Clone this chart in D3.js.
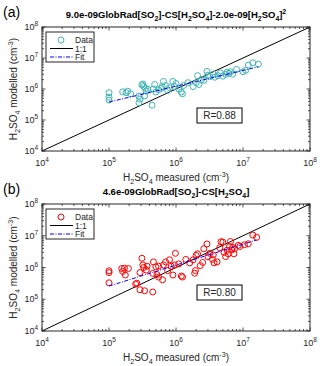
<!DOCTYPE html>
<html>
<head>
<meta charset="utf-8">
<script src="https://cdn.jsdelivr.net/npm/d3@7"></script>
<style>
  body { margin: 0; background: #fff; }
  svg { display: block; font-family: "Liberation Sans", Arial, sans-serif; }
</style>
</head>
<body>
<svg id="chart" width="320" height="366"></svg>
<script>
// Panel (a) – cyan scatter
const measuredA = [1.0e5, 1.0e5, 1.0e5, 1.6e5, 1.8e5, 1.9e5, 2.1e5, 2.8e5, 2.9e5, 2.8e5,
  3.1e5, 3.2e5, 3.3e5, 3.5e5, 3.6e5, 3.4e5, 3.8e5, 4.4e5, 4.8e5, 4.6e5,
  5.0e5, 5.5e5, 6.0e5, 6.5e5, 6.2e5, 7.0e5, 7.5e5, 8.0e5, 9.0e5, 9.5e5,
  1.0e6, 1.1e6, 1.2e6, 1.25e6, 1.3e6, 1.5e6, 1.8e6, 2.0e6, 2.1e6, 2.2e6,
  2.4e6, 2.6e6, 2.9e6, 3.0e6, 3.2e6, 3.6e6, 3.8e6, 4.2e6, 4.6e6, 5.0e6,
  5.5e6, 5.8e6, 6.2e6, 6.5e6, 7.0e6, 8.0e6, 1.0e7, 1.1e7, 1.2e7, 1.4e7, 1.7e7];
const modelledA = [7.6e5, 5.4e5, 4.4e5, 8.1e5, 7.6e5, 8.5e5, 7.0e5, 5.9e5, 4.7e5, 3.6e5,
  1.35e6, 1.45e6, 1.2e6, 1.05e6, 8.5e5, 6.0e5, 9.8e5, 3.0e5, 1.4e6, 1.0e6,
  8.0e5, 9.5e5, 1.05e6, 1.75e6, 1.2e6, 1.3e6, 9.0e5, 1.1e6, 1.75e6, 1.2e6,
  1.5e6, 1.0e6, 8.0e5, 7.0e5, 1.3e6, 1.6e6, 1.2e6, 1.6e6, 2.7e6, 1.4e6,
  2.0e6, 1.9e6, 3.7e6, 2.8e6, 2.5e6, 3.0e6, 2.4e6, 2.7e6, 3.3e6, 2.6e6,
  3.0e6, 3.5e6, 3.2e6, 3.6e6, 3.0e6, 4.3e6, 3.6e6, 4.0e6, 5.9e6, 7.0e6, 6.3e6];
const fitAx = [1.0e5, 1.7e7];
const fitAy = [3.8e5, 5.2e6];

// Panel (b) – red scatter
const measuredB = [1.0e5, 1.0e5, 1.0e5, 1.55e5, 1.6e5, 1.7e5, 1.75e5, 1.95e5, 2.6e5, 2.9e5,
  2.5e5, 2.9e5, 3.1e5, 3.2e5, 3.3e5, 3.4e5, 3.6e5, 3.7e5, 4.5e5, 4.6e5,
  4.5e5, 5.0e5, 5.2e5, 5.5e5, 5.5e5, 6.5e5, 6.3e5, 7.0e5, 7.5e5, 8.0e5,
  8.5e5, 9.0e5, 9.8e5, 9.5e5, 1.1e6, 1.2e6, 1.25e6, 1.4e6, 1.6e6, 1.8e6,
  1.9e6, 1.95e6, 2.0e6, 2.1e6, 2.3e6, 2.5e6, 2.6e6, 2.9e6, 3.0e6, 3.2e6,
  3.5e6, 3.6e6, 3.7e6, 4.1e6, 4.5e6, 4.7e6, 5.0e6, 5.2e6, 5.5e6, 5.8e6,
  6.0e6, 6.3e6, 6.5e6, 6.8e6, 7.0e6, 7.3e6, 7.5e6, 8.5e6, 9.0e6, 1.05e7,
  1.2e7, 1.4e7, 1.6e7];
const modelledB = [7.9e5, 6.9e5, 3.3e5, 9.3e5, 7.5e5, 9.5e5, 5.8e5, 9.3e5, 3.2e5, 6.9e5,
  3.0e5, 2.0e5, 1.95e6, 1.2e6, 1.0e6, 1.85e5, 8.3e5, 1.1e6, 1.7e5, 1.5e6,
  6.5e5, 1.05e6, 6.0e5, 5.0e5, 1.1e6, 1.2e6, 4.1e5, 1.5e6, 8.0e5, 1.75e6,
  1.1e6, 5.8e5, 2.8e6, 1.2e6, 1.3e6, 5.4e5, 5.0e5, 1.8e6, 1.4e6, 1.75e6,
  6.6e5, 8.0e5, 2.4e6, 2.7e6, 1.15e6, 1.45e6, 3.9e6, 5.5e6, 2.2e6, 2.8e6,
  1.8e6, 2.5e6, 1.4e6, 1.5e6, 4.2e6, 6.5e6, 6.3e6, 3.0e6, 2.2e6, 3.5e6,
  2.7e6, 4.6e6, 6.6e6, 3.6e6, 4.3e6, 2.7e6, 3.9e6, 5.0e6, 4.6e6, 5.2e6,
  5.6e6, 1.05e7, 8.9e6];
const fitBx = [1.0e5, 1.6e7];
const fitBy = [2.6e5, 7.4e6];

const axisDomain = [1e4, 1e8];
const majorTicks = [1e4, 1e5, 1e6, 1e7, 1e8];
const tickExponents = ["4", "5", "6", "7", "8"];
const legendLabels = ["Data", "1:1", "Fit"];

const svg = d3.select("#chart");
const ink = "#262626";

// Rich text: parts like {t:"2", s:"sub"}
function rich(sel, parts, size) {
  let shift = 0;
  for (const p of parts) {
    const target = p.s === "sub" ? size * 0.3 : p.s === "sup" ? -size * 0.4 : 0;
    sel.append("tspan")
      .attr("dy", target - shift)
      .attr("font-size", p.s ? size * 0.72 : size)
      .text(p.t);
    shift = target;
  }
}

function drawPanel(cfg) {
  const x = d3.scaleLog().domain(axisDomain).range([42, 310]);
  const y = d3.scaleLog().domain(axisDomain).range([cfg.bottom, cfg.top]);
  const g = svg.append("g");

  // minor + major ticks on all four sides, pointing inward
  const allTicks = [];
  for (let e = 4; e < 8; e++) {
    for (let m = 1; m < 10; m++) allTicks.push({ v: m * Math.pow(10, e), major: m === 1 });
  }
  allTicks.push({ v: 1e8, major: true });
  const tk = g.append("g").attr("stroke", ink).attr("stroke-width", 0.8);
  for (const t of allTicks) {
    const len = t.major ? 3.5 : 2;
    const px = x(t.v), py = y(t.v);
    tk.append("line").attr("x1", px).attr("x2", px).attr("y1", cfg.bottom).attr("y2", cfg.bottom - len);
    tk.append("line").attr("x1", px).attr("x2", px).attr("y1", cfg.top).attr("y2", cfg.top + len);
    tk.append("line").attr("y1", py).attr("y2", py).attr("x1", 42).attr("x2", 42 + len);
    tk.append("line").attr("y1", py).attr("y2", py).attr("x1", 310).attr("x2", 310 - len);
  }

  // 1:1 line
  g.append("line")
    .attr("x1", x(1e4)).attr("y1", y(1e4)).attr("x2", x(1e8)).attr("y2", y(1e8))
    .attr("stroke", "#000").attr("stroke-width", 1);

  // scatter
  g.append("g").selectAll("circle")
    .data(cfg.mx.map((v, i) => [v, cfg.my[i]]))
    .join("circle")
    .attr("cx", d => x(d[0])).attr("cy", d => y(d[1])).attr("r", 3)
    .attr("fill", "none").attr("stroke", cfg.color).attr("stroke-width", 1);

  // fit line
  g.append("line")
    .attr("x1", x(cfg.fx[0])).attr("y1", y(cfg.fy[0]))
    .attr("x2", x(cfg.fx[1])).attr("y2", y(cfg.fy[1]))
    .attr("stroke", "#0000ff").attr("stroke-width", 1)
    .attr("stroke-dasharray", "4,1.5,1,1.5");

  // box
  g.append("rect")
    .attr("x", 42).attr("y", cfg.top).attr("width", 268).attr("height", cfg.bottom - cfg.top)
    .attr("fill", "none").attr("stroke", ink).attr("stroke-width", 1);

  // tick labels
  majorTicks.forEach((v, i) => {
    const tx = g.append("text").attr("x", x(v)).attr("y", cfg.bottom + 15)
      .attr("text-anchor", "middle").attr("fill", ink);
    rich(tx, [{ t: "10" }, { t: tickExponents[i], s: "sup" }], 9);
    const ty = g.append("text").attr("x", 38).attr("y", y(v) + 3)
      .attr("text-anchor", "end").attr("fill", ink);
    rich(ty, [{ t: "10" }, { t: tickExponents[i], s: "sup" }], 9);
  });

  // axis labels
  const xl = g.append("text").attr("x", 176).attr("y", cfg.bottom + 30)
    .attr("text-anchor", "middle").attr("fill", ink);
  rich(xl, [{ t: "H" }, { t: "2", s: "sub" }, { t: "SO" }, { t: "4", s: "sub" },
    { t: " measured (cm" }, { t: "-3", s: "sup" }, { t: ")" }], 10);
  const yl = g.append("text")
    .attr("transform", `translate(17,${(cfg.top + cfg.bottom) / 2}) rotate(-90)`)
    .attr("text-anchor", "middle").attr("fill", ink);
  rich(yl, [{ t: "H" }, { t: "2", s: "sub" }, { t: "SO" }, { t: "4", s: "sub" },
    { t: " modelled (cm" }, { t: "-3", s: "sup" }, { t: ")" }], 10);

  // title and panel letter
  const ti = g.append("text").attr("x", 176).attr("y", cfg.top - 9)
    .attr("text-anchor", "middle").attr("font-weight", "bold").attr("fill", "#000");
  rich(ti, cfg.title, 9.5);
  g.append("text").attr("x", 3).attr("y", cfg.top - 10).attr("font-size", 14)
    .attr("fill", "#000").text(cfg.letter);

  // legend
  const lg = g.append("g").attr("transform", `translate(46,${cfg.top + 5})`);
  lg.append("rect").attr("width", 48).attr("height", 30)
    .attr("fill", "#fff").attr("stroke", ink).attr("stroke-width", 1);
  const rowY = [8, 16.5, 25];
  lg.append("circle").attr("cx", 15).attr("cy", rowY[0]).attr("r", 3)
    .attr("fill", "none").attr("stroke", cfg.color);
  lg.append("line").attr("x1", 4).attr("x2", 27).attr("y1", rowY[1]).attr("y2", rowY[1])
    .attr("stroke", "#000");
  lg.append("line").attr("x1", 4).attr("x2", 27).attr("y1", rowY[2]).attr("y2", rowY[2])
    .attr("stroke", "#0000ff").attr("stroke-dasharray", "4,1.5,1,1.5");
  legendLabels.forEach((s, i) => {
    lg.append("text").attr("x", 29).attr("y", rowY[i] + 3).attr("font-size", 8.5)
      .attr("fill", ink).text(s);
  });

  // R box
  const rg = g.append("g").attr("transform", `translate(197,${cfg.top + 81})`);
  rg.append("rect").attr("width", 45).attr("height", 15)
    .attr("fill", "#fff").attr("stroke", "#000").attr("stroke-width", 1);
  rg.append("text").attr("x", 22.5).attr("y", 11).attr("text-anchor", "middle")
    .attr("font-size", 10).attr("fill", ink).text(cfg.r);
}

drawPanel({
  top: 27, bottom: 151, letter: "(a)", color: "#40b4b4",
  mx: measuredA, my: modelledA, fx: fitAx, fy: fitAy, r: "R=0.88",
  title: [{ t: "9.0e-09GlobRad[SO" }, { t: "2", s: "sub" }, { t: "]-CS[H" }, { t: "2", s: "sub" },
    { t: "SO" }, { t: "4", s: "sub" }, { t: "]-2.0e-09[H" }, { t: "2", s: "sub" }, { t: "SO" },
    { t: "4", s: "sub" }, { t: "]" }, { t: "2", s: "sup" }]
});
drawPanel({
  top: 204, bottom: 331, letter: "(b)", color: "#ff0000",
  mx: measuredB, my: modelledB, fx: fitBx, fy: fitBy, r: "R=0.80",
  title: [{ t: "4.6e-09GlobRad[SO" }, { t: "2", s: "sub" }, { t: "]-CS[H" }, { t: "2", s: "sub" },
    { t: "SO" }, { t: "4", s: "sub" }, { t: "]" }]
});
</script>
</body>
</html>
